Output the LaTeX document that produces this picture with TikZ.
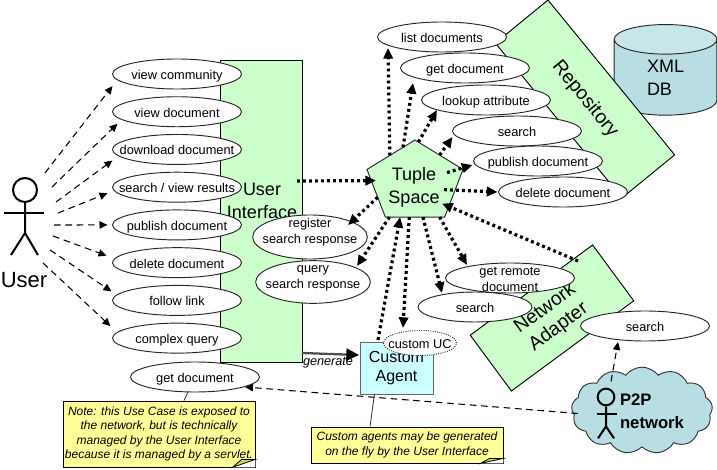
\documentclass[tikz,border=0pt]{standalone}
\usepackage{fontspec}
\setmainfont{Liberation Sans}
\usetikzlibrary{positioning,arrows.meta,shapes.geometric,shapes.symbols,calc}
\definecolor{mintfill}{HTML}{CCFFCC}
\definecolor{dbfill}{HTML}{B8DEE3}
\definecolor{dbtop}{HTML}{C8E6EA}
\definecolor{agentfill}{HTML}{CCFFFF}
\definecolor{notefill}{HTML}{FFFF99}
\definecolor{foldfill}{HTML}{CCCC66}
\tikzstyle{ucase}=[ellipse, draw=black!85, fill=white, line width=.7pt, minimum width=96.75pt, minimum height=22.5pt, inner sep=0pt, outer sep=0pt, font=\fontsize{9.6}{12}\selectfont]
\tikzstyle{bigbox}=[rectangle, draw=black, fill=mintfill, line width=.7pt, inner sep=0pt, outer sep=0pt, align=center, font=\fontsize{14.5}{17}\selectfont]
\tikzstyle{biglabel}=[align=center, inner sep=0pt, font=\fontsize{13.5}{17}\selectfont]
\tikzstyle{note}=[rectangle, draw=black, fill=notefill, line width=.6pt, inner sep=0pt, align=center, font=\fontsize{9}{10.9}\selectfont\itshape]
\tikzstyle{dline}=[line width=.8pt, dash pattern=on 5pt off 3.5pt, -{Triangle[length=6pt,width=5.5pt]}]
\tikzstyle{tline}=[line width=2.4pt, dash pattern=on 2.2pt off 2.3pt, -{Triangle[length=8pt,width=7pt]}]
\tikzstyle{actor}=[line width=1.5pt, black]
\tikzstyle{leader}=[line width=.6pt, black!80]
\newcommand\ucnode[3][]{
            \node (#2) [ucase, #1]
                {\makebox[0pt]{\smash{\raisebox{-4.1pt}{\begin{tabular}[c]{@{}c@{}}#3\end{tabular}}}}};
        }
\newcommand\notefold[3]{
            \fill[white] (#1.south east) -- ++(-#2,0) -- ++(#2,-#3) -- cycle;
            \draw[line width=.6pt, fill=foldfill] ([shift={(-#2,0)}]#1.south east) -- ++(#2,-#3) -- ++(-#2*0.6,0) -- cycle;
        }

\begin{document}
\begin{tikzpicture}[x=.75pt, y=-.75pt]

    \useasboundingbox (0,0) rectangle (717,470);

% big boxes at the back
    \node (xmldb) [cylinder, shape border rotate=90, aspect=.8, draw=black!85, line width=.7pt, cylinder uses custom fill, cylinder body fill=dbfill, cylinder end fill=dbtop, minimum width=77pt, minimum height=68pt, inner sep=0pt, align=left, font=\fontsize{13.5}{17}\selectfont] at (665.5,77.5) {XML\\DB};
    \node (repo) [bigbox, rotate=-50.7, minimum width=150pt, minimum height=51pt] at (585,99) {Repository};
    \node (ui) [bigbox, minimum width=61.5pt, minimum height=226.5pt] at (261,211) {};
    \node (uilabel) [biglabel] at (262,201) {User\\Interface};
    \node (netad) [bigbox, rotate=36.4, minimum width=114pt, minimum height=52pt] at (552,318) {Network\\Adapter};

% user actor
    \node (uhead) [circle, draw, actor, minimum size=18pt, inner sep=0pt] at (25,190) {};
    \draw[actor] (uhead.south) -- ++(0,30) coordinate (uhip) -- ++(-14,22);
    \draw[actor] (uhip) -- ++(13,22);
    \draw[actor] ([shift={(-21,10)}]uhead.south) -- ++(40,0);
    \node (user) [inner sep=0pt, font=\fontsize{16.5}{20}\selectfont] at (24,280) {User};

% interface use cases
    \ucnode[at={(177,74)}]{vcomm}{view community}
    \ucnode[below=5.8pt of vcomm]{vdoc}{view document}
    \ucnode[below=5.8pt of vdoc]{dldoc}{download document}
    \ucnode[below=5.8pt of dldoc]{svres}{search / view results}
    \ucnode[below=5.8pt of svres]{pubdoc}{publish document}
    \ucnode[below=5.8pt of pubdoc]{deldoc}{delete document}
    \ucnode[below=5.8pt of deldoc]{flink}{follow link}
    \ucnode[below=5.8pt of flink]{cquery}{complex query}
    \ucnode[at={(195,377)}]{getdoc}{get document}

% repository use cases
    \ucnode[at={(442,37)}]{rlist}{list documents}
    \ucnode[at={(465,68)}]{rget}{get document}
    \ucnode[at={(486,100)}]{rlookup}{lookup attribute}
    \ucnode[at={(517,131)}]{rsearch}{search}
    \ucnode[at={(538,161)}]{rpub}{publish document}
    \ucnode[at={(563,192)}]{rdel}{delete document}

    \ucnode[at={(310,237)}, minimum width=86pt, minimum height=33pt]{regsr}{register\\search response\\[10pt]}
    \ucnode[at={(313,282)}, minimum width=86pt, minimum height=32pt]{qsr}{query\\search response\\[10pt]}

    \ucnode[at={(510,278)}]{nget}{get remote\\document}
    \ucnode[at={(475,307)}, minimum width=85.5pt]{nsearch}{search}
    \ucnode[at={(645,326)}]{psearch}{search}

% custom agent
    \node (agent) [rectangle, draw=black!60, fill=agentfill, line width=.7pt, minimum width=54.75pt, minimum height=39pt, inner sep=0pt, outer sep=0pt, align=center, font=\fontsize{12}{15.5}\selectfont] at (396.5,368) {\raisebox{-1pt}{Custom}\\Agent};
    \ucnode[at={(420,343)}, minimum width=54.75pt, minimum height=18.75pt, densely dotted]{cuc}{custom UC}

% p2p cloud
    \node (cloud) [cloud, cloud puffs=13, cloud puff arc=105, aspect=1.9, draw=black!80, fill=dbfill, line width=.7pt, minimum width=105.75pt, minimum height=65pt, inner sep=0pt] at (642,410.5) {};
    \node (phead) [circle, draw, actor, minimum size=12.5pt, inner sep=0pt] at (606,397) {};
    \draw[actor] (phead.south) -- ++(0,20) coordinate (phip) -- ++(-8,12);
    \draw[actor] (phip) -- ++(8,12);
    \draw[actor] ([shift={(-9.5,8)}]phead.south) -- ++(20,0);
    \node (plabel) [biglabel, align=left, font=\fontsize{12.5}{17}\selectfont\bfseries] at (652,411) {P2P\\network};

% tuple space
    \node (ts) [regular polygon, regular polygon sides=5, transform shape, yscale=.843, draw=black!85, fill=mintfill, line width=.7pt, minimum size=75.75pt, inner sep=0pt, outer sep=0pt] at (415,182.6) {};

% user lines
    \coordinate (u1) at (45,173);
    \coordinate (u2) at (52,187);
    \coordinate (u3) at (56,202);
    \coordinate (u4) at (58,213);
    \coordinate (u5) at (54,225);
    \coordinate (u6) at (53,236);
    \coordinate (u7) at (50,250);
    \coordinate (u8) at (43,263);
    \draw[dline] (u1) -- ([shift={(0,12)}]vcomm.west);
    \draw[dline] (u2) -- ([shift={(5,12)}]vdoc.west);
    \draw[dline] (u3) -- ([shift={(0,11)}]dldoc.west);
    \draw[dline] (u4) -- ([shift={(-5,6)}]svres.west);
    \draw[dline] (u5) -- ([shift={(-5,0)}]pubdoc.west);
    \draw[dline] (u6) -- ([shift={(-6,-7)}]deldoc.west);
    \draw[dline] (u7) -- ([shift={(-1,-9)}]flink.west);
    \draw[dline] (u8) -- ([shift={(-2,-12)}]cquery.west);

% tuple space lines
    \draw[tline] (ts.128) -- ([shift={(-54,-4)}]rlist.south);
    \draw[tline] (ts.106) -- ([shift={(-52,0)}]rget.south);
    \draw[tline] (ts.86) -- ([shift={(-49,-5)}]rlookup.south);
    \draw[tline] (ts.53) -- ([shift={(0,6)}]rsearch.west);
    \draw[tline] ([shift={(32,-10)}]ts.center) -- ([shift={(-1,4)}]rpub.west);
    \draw[tline] ([shift={(29,7)}]ts.center) -- ([shift={(-1,0)}]rdel.west);
    \draw[tline] ([shift={(-5,-30)}]ui.east) -- ([shift={(-39,-2)}]ts.center);
    \draw[tline] (ts.205) -- ([shift={(38,-12)}]regsr.center);
    \draw[tline] (ts.238) -- ([shift={(44,-16)}]qsr.center);
    \draw[tline] ([shift={(18,-2)}]agent.north west) -- (ts.250);
    \draw[tline] (ts.262) -- ([shift={(-17,-15)}]cuc.center);
    \draw[tline] (ts.281) -- ([shift={(-33,-14)}]nsearch.center);
    \draw[tline] (ts.301.5) -- ([shift={(-43,-13)}]nget.center);
    \draw[tline] ([shift={(26,-57)}]netad.center) -- ([shift={(27,21)}]ts.center);
    \node (tslabel) [biglabel] at (414,187.5) {Tuple\\Space};

% generate line
    \draw[line width=1.7pt, black!70, -{Triangle[length=9.5pt,width=9pt,fill=black,color=black]}] ([shift={(0,142)}]ui.east) -- ([shift={(-1,-13)}]agent.west);
    \node (genlabel) [inner sep=0pt, font=\fontsize{9.5}{12}\selectfont\itshape] at (328,363) {generate};

% p2p lines
    \draw[dline] ([shift={(-64,3)}]cloud.center) -- ([shift={(50,10)}]getdoc.center);
    \draw[dline] ([shift={(-31,-29)}]cloud.center) -- ([shift={(-27,16)}]psearch.center);

% notes
    \node (note1) [note, minimum width=144pt, minimum height=49.5pt] at (159,434) {Note: this Use Case is exposed to\\the network, but is technically\\managed by the User Interface\\because it is managed by a servlet.};
    \notefold{note1}{23}{8}
    \node (note2) [note, minimum width=144pt, minimum height=27pt] at (407,445) {Custom agents may be generated\\on the fly by the User Interface};
    \notefold{note2}{23}{5}
    \draw[leader] ([shift={(-7,0)}]getdoc.south) -- ([shift={(25,0)}]note1.north);
    \draw[leader] ([shift={(-22,0)}]agent.south) -- ([shift={(-37,0)}]note2.north);

\end{tikzpicture}
\end{document}
